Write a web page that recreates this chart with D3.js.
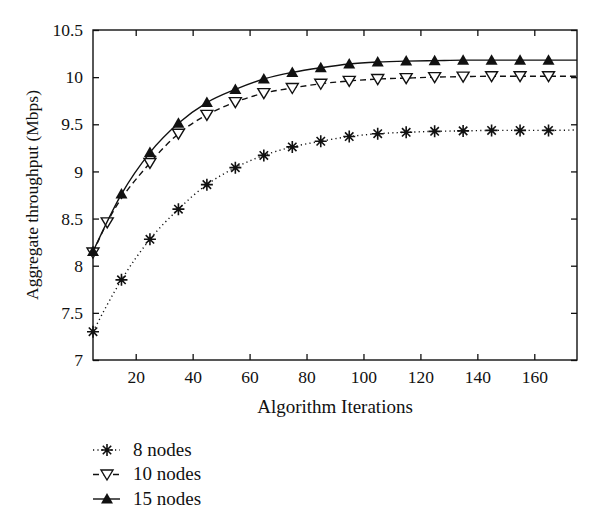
<!DOCTYPE html>
<html>
<head>
<meta charset="utf-8">
<script src="https://cdn.jsdelivr.net/npm/d3@7"></script>
<style>
  body { margin: 0; background: #fff; }
  text { font-family: "Liberation Serif", "DejaVu Serif", serif; fill: #111; }
</style>
</head>
<body>
<svg id="chart" width="600" height="528"></svg>
<script>
// iterations where each series is sampled (last point has no marker)
var iters = [5, 15, 25, 35, 45, 55, 65, 75, 85, 95, 105, 115, 125, 135, 145, 155, 165, 175]
var iters10 = [5, 10, 25, 35, 45, 55, 65, 75, 85, 95, 105, 115, 125, 135, 145, 155, 165, 175]

var nodes8 = [7.30, 7.85, 8.28, 8.60, 8.86, 9.04, 9.17, 9.26, 9.32, 9.37, 9.40, 9.415, 9.425, 9.43, 9.435, 9.435, 9.435, 9.44]
var nodes10 = [8.14, 8.46, 9.09, 9.40, 9.60, 9.735, 9.83, 9.885, 9.93, 9.96, 9.98, 9.99, 10.0, 10.005, 10.01, 10.01, 10.01, 10.01]
var nodes15 = [8.15, 8.76, 9.20, 9.51, 9.73, 9.87, 9.98, 10.05, 10.10, 10.14, 10.16, 10.17, 10.175, 10.18, 10.18, 10.18, 10.18, 10.18]

var seriesNames = ['8 nodes', '10 nodes', '15 nodes']
var xTicks = [20, 40, 60, 80, 100, 120, 140, 160]
var yTicks = [7, 7.5, 8, 8.5, 9, 9.5, 10, 10.5]

var svg = d3.select('#chart')
var L = 93, R = 577, T = 30, B = 360

var x = d3.scaleLinear().domain([5, 175]).range([L, R])
var y = d3.scaleLinear().domain([7, 10.5]).range([B, T])

var series = [
  {name: seriesNames[0], xs: iters, ys: nodes8, dash: '1.2,3.2', marker: 'star'},
  {name: seriesNames[1], xs: iters10, ys: nodes10, dash: '6,4', marker: 'down'},
  {name: seriesNames[2], xs: iters, ys: nodes15, dash: null, marker: 'up'}
]

// axes: ticks pointing inward, mirrored on the opposite side
var fmt = d => d3.format('')(d)

svg.append('g').attr('transform', 'translate(0,' + B + ')')
   .call(d3.axisBottom(x).tickValues(xTicks).tickSizeInner(-6).tickSizeOuter(0).tickPadding(11))
   .call(g => g.select('.domain').remove())
svg.append('g').attr('transform', 'translate(0,' + T + ')')
   .call(d3.axisTop(x).tickValues(xTicks).tickSizeInner(-6).tickSizeOuter(0).tickFormat(''))
   .call(g => g.select('.domain').remove())
svg.append('g').attr('transform', 'translate(' + L + ',0)')
   .call(d3.axisLeft(y).tickValues(yTicks).tickSizeInner(-6).tickSizeOuter(0).tickPadding(10).tickFormat(fmt))
   .call(g => g.select('.domain').remove())
svg.append('g').attr('transform', 'translate(' + R + ',0)')
   .call(d3.axisRight(y).tickValues(yTicks).tickSizeInner(-6).tickSizeOuter(0).tickFormat(''))
   .call(g => g.select('.domain').remove())

svg.selectAll('.tick line').attr('stroke', '#111').attr('stroke-width', 1.3)
svg.selectAll('.tick text')
   .attr('font-family', '"Liberation Serif", serif')
   .attr('font-size', 17.5)
   .attr('fill', '#111')

svg.append('rect')
   .attr('x', L).attr('y', T)
   .attr('width', R - L).attr('height', B - T)
   .attr('fill', 'none').attr('stroke', '#111').attr('stroke-width', 1.4)

var drawMarker = function (g, type, cx, cy) {
  if (type == 'up') {
    g.append('path')
     .attr('d', 'M' + cx + ',' + (cy - 6) + 'L' + (cx + 6) + ',' + (cy + 4.5) + 'L' + (cx - 6) + ',' + (cy + 4.5) + 'Z')
     .attr('fill', '#111')
  } else if (type == 'down') {
    g.append('path')
     .attr('d', 'M' + cx + ',' + (cy + 5.5) + 'L' + (cx + 6) + ',' + (cy - 4.5) + 'L' + (cx - 6) + ',' + (cy - 4.5) + 'Z')
     .attr('fill', '#fff').attr('stroke', '#111').attr('stroke-width', 1.4)
  } else {
    var r = 6, s = 4.2
    g.append('path')
     .attr('d', 'M' + (cx - r) + ',' + cy + 'H' + (cx + r) +
                'M' + cx + ',' + (cy - r) + 'V' + (cy + r) +
                'M' + (cx - s) + ',' + (cy - s) + 'L' + (cx + s) + ',' + (cy + s) +
                'M' + (cx - s) + ',' + (cy + s) + 'L' + (cx + s) + ',' + (cy - s))
     .attr('stroke', '#111').attr('stroke-width', 1.6).attr('fill', 'none')
  }
}

var line = d3.line().curve(d3.curveMonotoneX)

series.forEach(function (s) {
  var pts = s.xs.map((v, i) => [x(v), y(s.ys[i])])
  svg.append('path')
     .attr('d', line(pts))
     .attr('fill', 'none')
     .attr('stroke', '#111')
     .attr('stroke-width', 1.4)
     .attr('stroke-dasharray', s.dash)
  var mg = svg.append('g')
  pts.slice(0, pts.length - 1).forEach(p => drawMarker(mg, s.marker, p[0], p[1]))
})

// axis titles
svg.append('text')
   .attr('x', (L + R) / 2).attr('y', 413)
   .attr('text-anchor', 'middle').attr('font-size', 19)
   .text('Algorithm Iterations')

svg.append('text')
   .attr('transform', 'translate(38,' + (T + B) / 2 + ') rotate(-90)')
   .attr('text-anchor', 'middle').attr('font-size', 17.5)
   .text('Aggregate throughput (Mbps)')

// legend
var leg = svg.append('g')
series.forEach(function (s, i) {
  var ly = 450 + i * 24.5
  leg.append('line')
     .attr('x1', 93).attr('x2', 120).attr('y1', ly).attr('y2', ly)
     .attr('stroke', '#111').attr('stroke-width', 1.4)
     .attr('stroke-dasharray', s.dash)
  drawMarker(leg, s.marker, 107, ly)
  leg.append('text')
     .attr('x', 133).attr('y', ly + 5.5)
     .attr('font-size', 19)
     .text(s.name)
})
</script>
</body>
</html>
